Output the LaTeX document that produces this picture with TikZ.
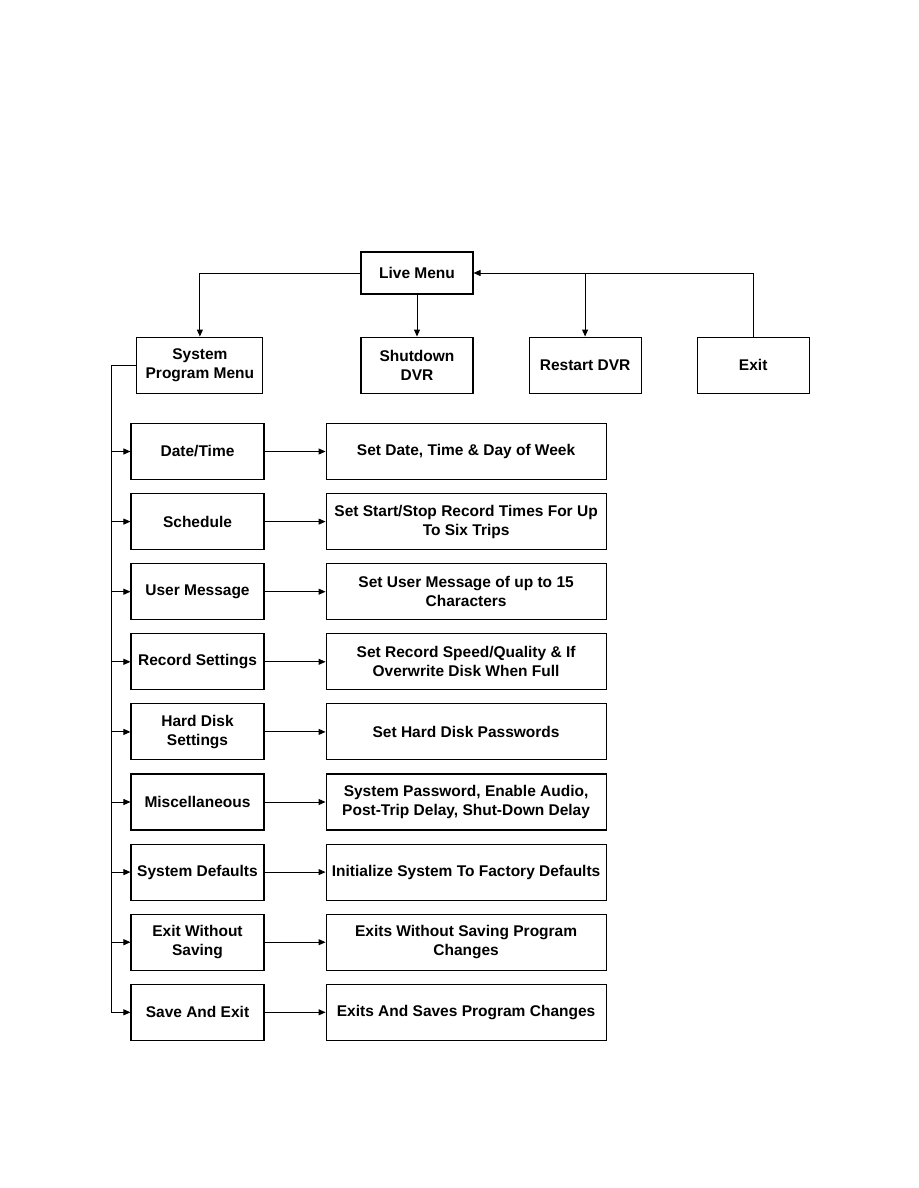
\documentclass[tikz,border=0pt]{standalone}
\usepackage{fontspec}
\setmainfont{Liberation Sans}
\usetikzlibrary{arrows.meta,positioning}

\begin{document}
\begin{tikzpicture}[
  x=1pt,y=-1pt,
  >={Triangle[length=7pt,width=6pt]},
  node distance=13pt,
  menu/.style={draw,line width=1.1pt,minimum width=112pt,minimum height=56pt,
    inner sep=2pt,align=center,font=\bfseries\fontsize{15.5}{19}\selectfont},
  option/.style={menu,minimum width=133pt},
  action/.style={menu,minimum width=280pt},
  link/.style={->,line width=0.9pt}
]
  \useasboundingbox (0,0) rectangle (918,1188);

  % top row
  \node[menu,minimum height=42pt] (live) at (417,273) {Live Menu};
  \node[menu,below=42pt of live] (shutdown) {Shutdown\\DVR};
  \node[menu,right=55pt of shutdown] (restart) {Restart DVR};
  \node[menu,right=55pt of restart] (exit) {Exit};
  \node[menu,minimum width=126pt,left=97pt of shutdown] (sysmenu) {System\\Program Menu};

  \draw[link] (live.west) -| (sysmenu.north);
  \draw[link] (live.south) -- (shutdown.north);
  \draw[link] (exit.north) |- (live.east);
  \draw[link] (restart.north |- live.east) -- (restart.north);

  % program menu entries
  \node[option] (datetime) at (197.5,451.5) {Date/Time};
  \node[option,below=of datetime] (schedule) {Schedule};
  \node[option,below=of schedule] (usermsg) {User Message};
  \node[option,below=of usermsg] (record) {Record Settings};
  \node[option,below=of record] (harddisk) {Hard Disk\\Settings};
  \node[option,below=of harddisk] (misc) {Miscellaneous};
  \node[option,below=of misc] (defaults) {System Defaults};
  \node[option,below=of defaults] (nosave) {Exit Without\\Saving};
  \node[option,below=of nosave] (saveexit) {Save And Exit};

  \node[action,right=61pt of datetime] (setdate) {Set Date, Time \& Day of Week};
  \node[action,right=61pt of schedule] (setsched) {Set Start/Stop Record Times For Up\\To Six Trips};
  \node[action,right=61pt of usermsg] (setmsg) {Set User Message of up to 15\\Characters};
  \node[action,right=61pt of record] (setrec) {Set Record Speed/Quality \& If\\Overwrite Disk When Full};
  \node[action,right=61pt of harddisk] (setdisk) {Set Hard Disk Passwords};
  \node[action,right=61pt of misc] (setmisc) {System Password, Enable Audio,\\Post-Trip Delay, Shut-Down Delay};
  \node[action,right=61pt of defaults] (setdef) {Initialize System To Factory Defaults};
  \node[action,right=61pt of nosave] (setnosave) {Exits Without Saving Program\\Changes};
  \node[action,right=61pt of saveexit] (setsave) {Exits And Saves Program Changes};

  % spine on the left
  \coordinate (spine) at (111,0);
  \draw[line width=0.9pt] (sysmenu.west) -| (spine |- saveexit.west);
  \foreach \item/\goal in {datetime/setdate,schedule/setsched,usermsg/setmsg,
      record/setrec,harddisk/setdisk,misc/setmisc,defaults/setdef,
      nosave/setnosave,saveexit/setsave}{
    \draw[link] (spine |- \item.west) -- (\item.west);
    \draw[link] (\item.east) -- (\goal.west);
  }
\end{tikzpicture}
\end{document}
